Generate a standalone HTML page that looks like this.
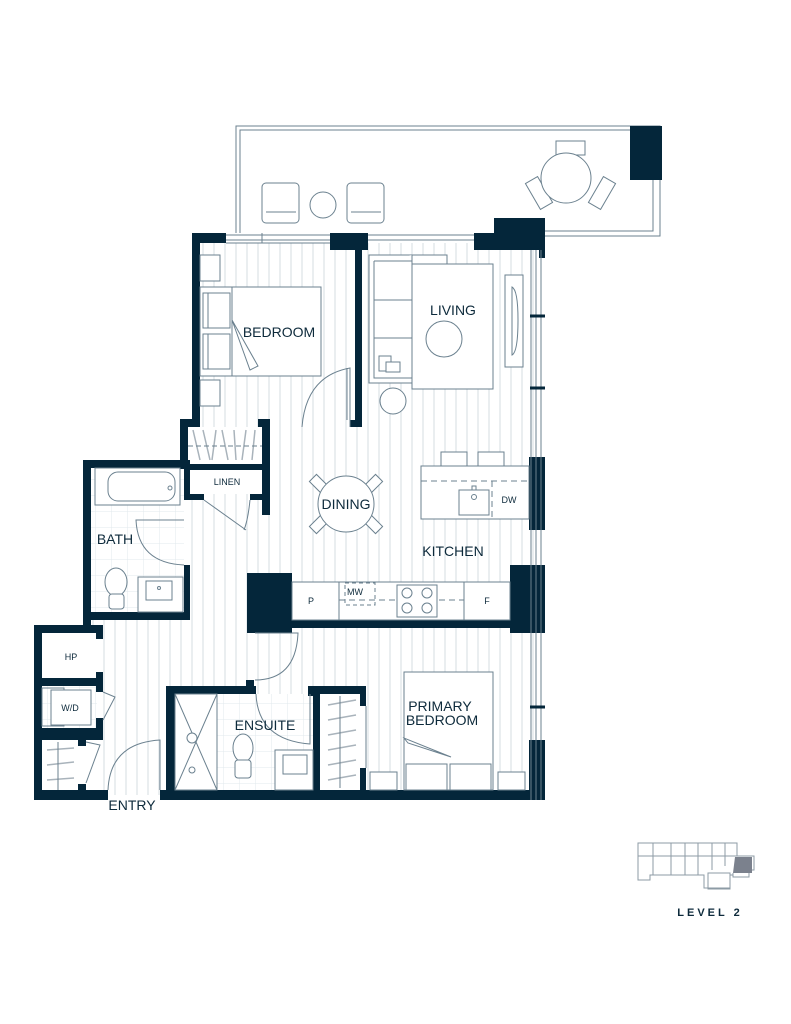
<!DOCTYPE html>
<html><head><meta charset="utf-8"><style>
body{margin:0;background:#fff}
svg{display:block}
text{font-family:"Liberation Sans",sans-serif;fill:#0d2a3b}
</style></head><body>
<svg width="791" height="1024" viewBox="0 0 791 1024" xmlns="http://www.w3.org/2000/svg">
<defs>
<pattern id="st" width="11" height="20" patternUnits="userSpaceOnUse">
<rect width="11" height="20" fill="#fff"/><line x1="5" y1="0" x2="5" y2="20" stroke="#d4dce2" stroke-width="1"/>
</pattern>
<pattern id="tile" width="16" height="16" patternUnits="userSpaceOnUse">
<rect width="16" height="16" fill="#fff"/><path d="M16 0V16H0" fill="none" stroke="#e2e8ec" stroke-width="1"/>
</pattern>
</defs>
<g fill="none" stroke="#6b818f" stroke-width="1">
<path d="M236 233V126H660V236H545"/>
<path d="M240 233V130H653V231H545"/>
</g>
<rect x="630" y="126" width="32" height="54" fill="#04263a"/>
<g fill="#fff" stroke="#6b818f" stroke-width="1">
<rect x="262" y="183" width="37" height="40" rx="4"/><line x1="266" y1="212" x2="296" y2="212"/>
<rect x="347" y="183" width="37" height="40" rx="4"/><line x1="351" y1="212" x2="381" y2="212"/>
<circle cx="323" cy="205" r="13"/>
<rect x="556" y="141" width="29" height="14"/>
<rect x="532" y="178" width="14" height="30" transform="rotate(-30 539 193)"/>
<rect x="595" y="178" width="14" height="30" transform="rotate(30 602 193)"/>
<circle cx="566" cy="178" r="25"/>
</g>
<path d="M200 243H539V795H40V630H90V468H190V420H200Z" fill="url(#st)"/>
<rect x="90" y="468" width="94" height="145" fill="url(#tile)"/>
<rect x="42" y="633" width="55" height="157" fill="#fff"/>
<rect x="42" y="686" width="55" height="42" fill="url(#tile)"/>
<rect x="173" y="694" width="140" height="96" fill="url(#tile)"/>
<rect x="320" y="694" width="40" height="96" fill="#fff"/>
<rect x="188" y="427" width="74" height="40" fill="#fff"/>
<rect x="188" y="470" width="74" height="24" fill="#fff"/>
<g fill="#04263a">
<rect x="192" y="233" width="34" height="10"/><rect x="192" y="233" width="8" height="194"/>
<rect x="330" y="233" width="38" height="17"/><rect x="355" y="233" width="7" height="194"/><rect x="350" y="420" width="12" height="7"/>
<rect x="474" y="233" width="71" height="17"/><rect x="494" y="218" width="51" height="20"/>
<rect x="539" y="218" width="6" height="40"/>
<rect x="529" y="457" width="16" height="73"/>
<rect x="510" y="565" width="35" height="68"/>
<rect x="529" y="740" width="16" height="60"/>
<rect x="180" y="419" width="16" height="8"/><rect x="258" y="419" width="12" height="8"/><rect x="180" y="419" width="8" height="50"/><rect x="262" y="419" width="8" height="96"/>
<rect x="188" y="464" width="74" height="6"/><rect x="188" y="494" width="16" height="6"/><rect x="250" y="494" width="20" height="6"/>
<rect x="83" y="460" width="105" height="8"/><rect x="83" y="460" width="8" height="165"/><rect x="184" y="460" width="6" height="40"/><rect x="184" y="565" width="6" height="55"/><rect x="83" y="612" width="107" height="8"/>
<rect x="34" y="625" width="69" height="8"/><rect x="34" y="625" width="8" height="175"/><rect x="96" y="625" width="7" height="14"/><rect x="96" y="672" width="7" height="20"/><rect x="42" y="678" width="61" height="8"/>
<rect x="42" y="728" width="61" height="12"/><rect x="96" y="718" width="7" height="22"/><rect x="78" y="740" width="8" height="6"/><rect x="78" y="784" width="8" height="10"/>
<rect x="34" y="790" width="74" height="10"/><rect x="160" y="790" width="385" height="10"/>
<rect x="166" y="686" width="9" height="110"/><rect x="166" y="686" width="90" height="8"/><rect x="246" y="680" width="8" height="14"/>
<rect x="308" y="686" width="58" height="8"/><rect x="308" y="686" width="6" height="10"/><rect x="360" y="686" width="6" height="20"/><rect x="360" y="768" width="6" height="25"/>
<rect x="313" y="694" width="7" height="96"/>
<rect x="247" y="573" width="45" height="60"/><rect x="247" y="620" width="298" height="8"/><rect x="247" y="620" width="8" height="12"/>
</g>
<g stroke="#6b818f" stroke-width="1" fill="none">
<path d="M226 235H330M226 240H330M226 243H330M262 233V243"/>
<path d="M368 235H474M368 240H474M395 240H468"/>
<path d="M531 250V800M536 250V800M541 250V800"/>
<line x1="530" y1="316" x2="545" y2="316" stroke="#04263a" stroke-width="3"/>
<line x1="530" y1="388" x2="545" y2="388" stroke="#04263a" stroke-width="3"/>
<line x1="530" y1="707" x2="545" y2="707" stroke="#04263a" stroke-width="3"/>
</g>
<g fill="#fff" stroke="#6b818f" stroke-width="1">
<rect x="200" y="255" width="20" height="26"/><rect x="200" y="380" width="20" height="26"/>
<rect x="200" y="287" width="121" height="89"/>
<rect x="203" y="293" width="12" height="35"/><rect x="208" y="293" width="22" height="35"/>
<rect x="203" y="334" width="12" height="35"/><rect x="208" y="334" width="22" height="35"/>
<path d="M232 287V376M232 320L250 370L258 366Z"/>
<rect x="369" y="255" width="78" height="128"/><path d="M374 261H412V255M374 261V378H412V255M374 300H412M374 338H412"/>
<rect x="412" y="264" width="81" height="125"/>
<rect x="379" y="356" width="12" height="15"/><rect x="386" y="362" width="14" height="10"/>
<circle cx="444" cy="339" r="18"/><circle cx="393" cy="401" r="13"/>
<rect x="505" y="275" width="18" height="92"/><path d="M512 287Q518 290 518 320Q518 352 512 355Z"/>
<rect x="441" y="452" width="26" height="14"/><rect x="478" y="452" width="26" height="14"/>
<rect x="421" y="466" width="108" height="53"/><path d="M421 481H529M492 481V519" stroke-dasharray="6 4"/>
<rect x="459" y="490" width="30" height="25"/><circle cx="474" cy="497" r="2.5"/><rect x="472" y="486" width="4" height="4"/>
<rect x="315" y="475" width="10" height="20" transform="rotate(-45 320 485)"/><rect x="367" y="475" width="10" height="20" transform="rotate(45 372 485)"/>
<rect x="315" y="513" width="10" height="20" transform="rotate(45 320 523)"/><rect x="367" y="513" width="10" height="20" transform="rotate(-45 372 523)"/>
<circle cx="346" cy="504" r="28"/>
<rect x="292" y="582" width="47" height="38"/><rect x="339" y="582" width="125" height="38"/><rect x="464" y="582" width="46" height="38"/>
<rect x="345" y="583" width="30" height="22" stroke-dasharray="4 3"/><path d="M339 600H464" stroke-dasharray="6 4"/>
<rect x="397" y="585" width="40" height="32"/><circle cx="407" cy="593" r="5"/><circle cx="427" cy="593" r="5"/><circle cx="407" cy="608" r="5"/><circle cx="427" cy="608" r="5"/>
<rect x="95" y="468" width="85" height="37"/><rect x="108" y="472" width="67" height="29" rx="10"/><circle cx="170" cy="488" r="2"/>
<ellipse cx="116" cy="582" rx="11" ry="14"/><rect x="109" y="594" width="15" height="15" rx="3"/>
<rect x="138" y="577" width="45" height="35"/><rect x="146" y="581" width="26" height="19"/><circle cx="159" cy="588" r="1.5"/>
<rect x="42" y="688" width="22" height="38" fill="none"/><rect x="51" y="690" width="40" height="35"/>
<rect x="175" y="694" width="42" height="96"/><path d="M175 694L217 790M217 694L175 790"/><circle cx="192" cy="738" r="5"/><circle cx="192" cy="770" r="3"/>
<ellipse cx="243" cy="748" rx="10" ry="14"/><rect x="235" y="760" width="16" height="18" rx="3"/>
<rect x="275" y="750" width="38" height="40"/><rect x="283" y="755" width="24" height="19"/>
<rect x="404" y="672" width="89" height="118"/>
<path d="M404 738L408 743L451 757Z"/>
<rect x="406" y="764" width="41" height="26"/><rect x="450" y="764" width="41" height="26"/>
<rect x="370" y="772" width="27" height="18"/><rect x="498" y="772" width="27" height="18"/>
</g>
<g stroke="#a9b3bb" stroke-width="1.5">
<path d="M193 430L200 460M203 430L210 460M216 430L212 460M222 430L228 460M234 430L236 460M246 430L242 460M255 430L252 460"/>
<path d="M47 750L74 748M47 765L74 762M47 780L74 778"/>
<path d="M328 705L356 700M328 720L356 715M328 735L356 730M328 750L356 745M328 765L356 760M328 780L356 775"/>
</g>
<g stroke="#6b818f" stroke-width="1" fill="none">
<path d="M188 446H262" stroke-dasharray="5 3"/>
<path d="M58 742V790M340 696V788"/>
<path d="M350 427V368Q306 376 302 427"/><path d="M347 368V420"/>
<path d="M204 500L246 530M250 500Q248 520 244 530"/>
<path d="M184 520H136Q138 563 184 565"/>
<path d="M255 633H298Q296 680 255 680"/>
<path d="M256 694Q258 740 310 744V694"/>
<path d="M103 692L115 697L103 720"/><path d="M86 742L100 745L86 783"/>
<path d="M108 790Q110 743 160 740V790"/>
<path d="M366 706V768"/>
</g>
<g font-size="14" text-anchor="middle">
<text x="279" y="337">BEDROOM</text>
<text x="453" y="315">LIVING</text>
<text x="346" y="509">DINING</text>
<text x="453" y="556">KITCHEN</text>
<text x="115" y="544">BATH</text>
<text x="265" y="730">ENSUITE</text>
<text x="440" y="711">PRIMARY</text>
<text x="442" y="725">BEDROOM</text>
<text x="132" y="810">ENTRY</text>
</g>
<g font-size="9" text-anchor="middle">
<text x="227" y="485">LINEN</text><text x="71" y="660">HP</text><text x="70" y="711">W/D</text>
<text x="311" y="604">P</text><text x="355" y="595">MW</text><text x="487" y="604">F</text><text x="509" y="503">DW</text>
</g>
<g fill="none" stroke="#8d9ba5" stroke-width="1">
<path d="M638 843H737V856H754V870H749V877H733V873H733V875H730V888H704V875H650V880H638Z"/>
<path d="M638 856H737M653 843V875M671 843V875M685 843V875M698 843V875M712 843V870M725 843V866"/>
<rect x="708" y="873" width="22" height="16"/>
</g>
<path d="M735 857H752V873H733Z" fill="#7b818d"/>
<text x="710" y="916" font-size="11" font-weight="bold" letter-spacing="3" text-anchor="middle">LEVEL 2</text>
</svg>
</body></html>
